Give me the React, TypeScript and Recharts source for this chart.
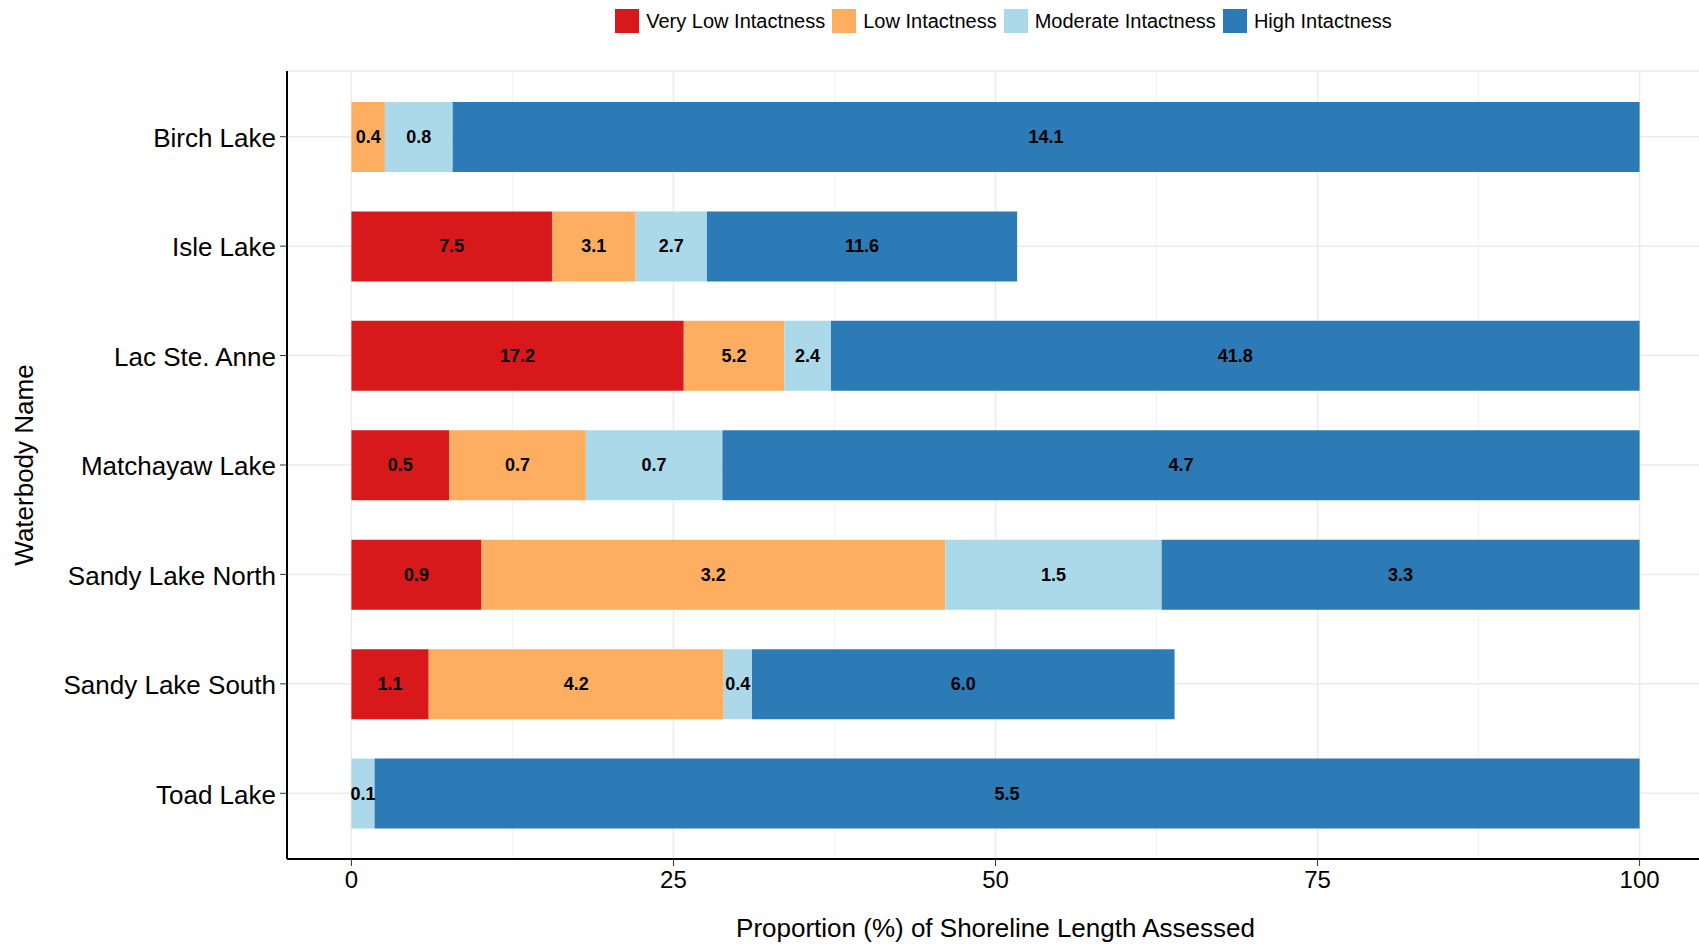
import {
  BarChart, Bar, XAxis, YAxis, CartesianGrid, LabelList,
} from 'recharts';

const FONT = '"Liberation Sans", Arial, sans-serif';

// Categories (top to bottom)
const LAKES = [
  'Birch Lake', 'Isle Lake', 'Lac Ste. Anne', 'Matchayaw Lake',
  'Sandy Lake North', 'Sandy Lake South', 'Toad Lake',
];

// Bar lengths: proportion (%) of shoreline length assessed
const VERY_LOW = [0, 15.57, 25.8, 7.6, 10.1, 6.0, 0];
const LOW      = [2.6, 6.5, 7.8, 10.6, 36.0, 22.9, 0];
const MODERATE = [5.26, 5.53, 3.63, 10.6, 16.8, 2.2, 1.8];
const HIGH     = [92.14, 24.08, 62.77, 71.2, 37.1, 32.8, 98.2];

// Text printed in each segment (shoreline length, km)
const VERY_LOW_LBL = [null, 7.5, 17.2, 0.5, 0.9, 1.1, null];
const LOW_LBL      = [0.4, 3.1, 5.2, 0.7, 3.2, 4.2, null];
const MODERATE_LBL = [0.8, 2.7, 2.4, 0.7, 1.5, 0.4, 0.1];
const HIGH_LBL     = [14.1, 11.6, 41.8, 4.7, 3.3, 6.0, 5.5];

const X_TICKS = [0, 25, 50, 75, 100];
const X_MINOR = [12.5, 37.5, 62.5, 87.5];

const SERIES = [
  { key: 'veryLow', label: 'Very Low Intactness', color: '#d7191c' },
  { key: 'low', label: 'Low Intactness', color: '#fdae61' },
  { key: 'moderate', label: 'Moderate Intactness', color: '#abd9e9' },
  { key: 'high', label: 'High Intactness', color: '#2c7bb6' },
];

const data = LAKES.map((name, i) => ({
  name,
  veryLow: VERY_LOW[i],
  low: LOW[i],
  moderate: MODERATE[i],
  high: HIGH[i],
  veryLowLbl: VERY_LOW_LBL[i],
  lowLbl: LOW_LBL[i],
  moderateLbl: MODERATE_LBL[i],
  highLbl: HIGH_LBL[i],
}));

const SegmentLabel = (props: any) => {
  const { x, y, width, height, value } = props;
  if (value === null || value === undefined) return null;
  return (
    <text
      x={x + width / 2}
      y={y + height / 2}
      textAnchor="middle"
      dominantBaseline="central"
      fill="#000"
      fontSize={18}
      fontWeight="bold"
      fontFamily={FONT}
    >
      {Number(value).toFixed(1)}
    </text>
  );
};

const YTitle = (props: any) => {
  const vb = props.viewBox;
  const cx = vb.x + 24;
  const cy = vb.y + vb.height / 2;
  return (
    <text
      x={cx} y={cy}
      transform={`rotate(-90 ${cx} ${cy})`}
      textAnchor="middle"
      dominantBaseline="central"
      fontSize={26}
      fill="#000"
      fontFamily={FONT}
    >
      Waterbody Name
    </text>
  );
};

const XTitle = (props: any) => {
  const vb = props.viewBox;
  return (
    <text
      x={vb.x + vb.width / 2}
      y={vb.y + 69}
      textAnchor="middle"
      dominantBaseline="central"
      fontSize={26}
      fill="#000"
      fontFamily={FONT}
    >
      Proportion (%) of Shoreline Length Assessed
    </text>
  );
};

export default function App() {
  return (
    <div
      style={{
        position: 'absolute', left: 0, top: 0, width: 1699, height: 946,
        overflow: 'hidden', background: '#fff', fontFamily: FONT,
      }}
    >
      <div
        style={{
          position: 'absolute', top: 9, left: 295, width: 1417,
          display: 'flex', justifyContent: 'center', gap: 7,
        }}
      >
        {SERIES.map((s) => (
          <span key={s.key} style={{ display: 'flex', alignItems: 'center', gap: 7 }}>
            <span style={{ width: 24, height: 24, background: s.color, display: 'inline-block' }} />
            <span style={{ fontSize: 20, color: '#000', lineHeight: '24px' }}>{s.label}</span>
          </span>
        ))}
      </div>

      <BarChart
        width={1704}
        height={946}
        data={data}
        layout="vertical"
        margin={{ top: 71, right: 0, bottom: 0, left: 0 }}
        barSize={70}
      >
        {/* minor vertical grid, then major grid */}
        <CartesianGrid
          horizontal={false}
          verticalValues={X_MINOR}
          stroke="#f3f3f3"
          strokeWidth={1}
        />
        <CartesianGrid stroke="#ebebeb" strokeWidth={1.5} />
        <XAxis
          type="number"
          domain={[-5, 105]}
          ticks={X_TICKS}
          allowDataOverflow
          height={87}
          tickSize={7}
          tickMargin={5}
          axisLine={{ stroke: '#000', strokeWidth: 2 }}
          tickLine={{ stroke: '#333' }}
          tick={{ fill: '#000', fontSize: 24, fontFamily: FONT }}
          label={<XTitle />}
        />
        <YAxis
          type="category"
          dataKey="name"
          width={287}
          padding={{ top: 11, bottom: 11 }}
          tickSize={7}
          tickMargin={4}
          axisLine={{ stroke: '#000', strokeWidth: 2 }}
          tickLine={{ stroke: '#333' }}
          tick={{ fill: '#000', fontSize: 26, fontFamily: FONT, dy: 1 }}
          interval={0}
          label={<YTitle />}
        />
        {SERIES.map((s) => (
          <Bar
            key={s.key}
            dataKey={s.key}
            stackId="a"
            fill={s.color}
            isAnimationActive={false}
          >
            <LabelList dataKey={`${s.key}Lbl`} content={<SegmentLabel />} />
          </Bar>
        ))}
      </BarChart>
    </div>
  );
}
